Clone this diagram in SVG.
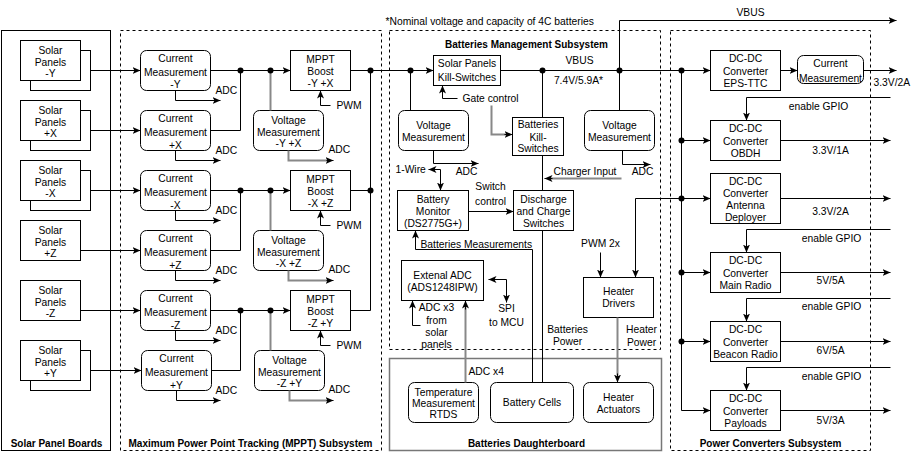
<svg xmlns="http://www.w3.org/2000/svg" width="913" height="452" viewBox="0 0 913 452">
<defs>
<marker id="ah" markerUnits="userSpaceOnUse" markerWidth="9" markerHeight="8" refX="8" refY="4" orient="auto-start-reverse" viewBox="0 0 9 8">
<path d="M0,0.5 L8,4 L0,7.5 L2,4 Z" fill="#000"/>
</marker>
<style>
.n{fill:#fff;stroke:#000;stroke-width:1}
.c{fill:none;stroke:#000;stroke-width:1}
.d{fill:none;stroke:#000;stroke-width:1;stroke-dasharray:3 3}
.w{fill:none;stroke:#000;stroke-width:1}
.g{fill:none;stroke:#888;stroke-width:2}
.a{marker-end:url(#ah)}
.s{marker-start:url(#ah)}
.j{fill:#000}
text{font-family:"Liberation Sans",Arial,Helvetica,sans-serif;font-size:10.3px;fill:#000;text-anchor:middle}
.l{text-anchor:start}
.b{font-weight:bold;font-size:10px}
</style>
</defs>
<rect width="913" height="452" fill="#fff"/>
<g transform="translate(0.5,0.5)">

<g id="containers">
<rect x="1" y="30" width="109" height="420" class="c"/>
<text class="b" x="56" y="446">Solar Panel Boards</text>
<rect x="120" y="30" width="261" height="420" class="d"/>
<text class="b" x="250" y="446">Maximum Power Point Tracking (MPPT) Subsystem</text>
<rect x="389" y="30" width="271" height="319" class="d"/>
<text class="b" x="526" y="47">Batteries Management Subsystem</text>
<rect x="389" y="358" width="272" height="92" fill="none" stroke="#777" stroke-width="1.5"/>
<text class="b" x="526" y="446">Batteries Daughterboard</text>
<rect x="670" y="30" width="200" height="420" class="d"/>
<text class="b" x="770" y="446">Power Converters Subsystem</text>
<text class="l" x="385" y="24">*Nominal voltage and capacity of 4C batteries</text>
</g>

<g id="panel-my"><rect x="30" y="50" width="60" height="40" class="n"/><rect x="20" y="40" width="60" height="40" class="n"/><text x="50" y="53.5">Solar</text><text x="50" y="65">Panels</text><text x="50" y="76.5">-Y</text></g>
<g id="panel-px"><rect x="30" y="110" width="60" height="40" class="n"/><rect x="20" y="100" width="60" height="40" class="n"/><text x="50" y="113.5">Solar</text><text x="50" y="125">Panels</text><text x="50" y="136.5">+X</text></g>
<g id="panel-mx"><rect x="30" y="170" width="60" height="40" class="n"/><rect x="20" y="160" width="60" height="40" class="n"/><text x="50" y="173.5">Solar</text><text x="50" y="185">Panels</text><text x="50" y="196.5">-X</text></g>
<g id="panel-pz"><rect x="20" y="220" width="60" height="40" class="n"/><text x="50" y="233.5">Solar</text><text x="50" y="245">Panels</text><text x="50" y="256.5">+Z</text></g>
<g id="panel-mz"><rect x="20" y="280" width="60" height="40" class="n"/><text x="50" y="293.5">Solar</text><text x="50" y="305">Panels</text><text x="50" y="316.5">-Z</text></g>
<g id="panel-py"><rect x="30" y="350" width="60" height="40" class="n"/><rect x="20" y="340" width="60" height="40" class="n"/><text x="50" y="353.5">Solar</text><text x="50" y="365">Panels</text><text x="50" y="376.5">+Y</text></g>

<g id="cm-my"><rect x="140" y="50" width="70" height="40" rx="6" class="n"/><text x="175" y="61.5">Current</text><text x="175" y="75">Measurement</text><text x="175" y="87">-Y</text></g>
<g id="cm-px"><rect x="140" y="110" width="70" height="40" rx="6" class="n"/><text x="175" y="121">Current</text><text x="175" y="135.5">Measurement</text><text x="175" y="148.5">+X</text></g>
<g id="cm-mx"><rect x="140" y="170" width="70" height="40" rx="6" class="n"/><text x="175" y="181">Current</text><text x="175" y="195.5">Measurement</text><text x="175" y="208.5">-X</text></g>
<g id="cm-pz"><rect x="140" y="230" width="70" height="40" rx="6" class="n"/><text x="175" y="241">Current</text><text x="175" y="255.5">Measurement</text><text x="175" y="268.5">+Z</text></g>
<g id="cm-mz"><rect x="140" y="290" width="70" height="40" rx="6" class="n"/><text x="175" y="301">Current</text><text x="175" y="315.5">Measurement</text><text x="175" y="328.5">-Z</text></g>
<g id="cm-py"><rect x="141" y="350" width="70" height="40" rx="6" class="n"/><text x="176" y="361">Current</text><text x="176" y="375.5">Measurement</text><text x="176" y="388.5">+Y</text></g>

<g id="mppt-1"><rect x="290" y="50" width="60" height="40" class="n"/><text x="320" y="62.5">MPPT</text><text x="320" y="74.5">Boost</text><text x="320" y="86.5">-Y +X</text></g>
<g id="mppt-2"><rect x="290" y="170" width="60" height="40" class="n"/><text x="320" y="182.5">MPPT</text><text x="320" y="194.5">Boost</text><text x="320" y="206.5">-X +Z</text></g>
<g id="mppt-3"><rect x="290" y="290" width="60" height="40" class="n"/><text x="320" y="302.5">MPPT</text><text x="320" y="314.5">Boost</text><text x="320" y="326.5">-Z +Y</text></g>

<g id="vm-1"><rect x="253" y="110" width="70" height="40" rx="6" class="n"/><text x="288" y="123.5">Voltage</text><text x="288" y="135.5">Measurement</text><text x="288" y="146.5">-Y +X</text></g>
<g id="vm-2"><rect x="253" y="230" width="70" height="40" rx="6" class="n"/><text x="288" y="243.5">Voltage</text><text x="288" y="255.5">Measurement</text><text x="288" y="266.5">-X +Z</text></g>
<g id="vm-3"><rect x="254" y="350" width="70" height="40" rx="6" class="n"/><text x="289" y="363.5">Voltage</text><text x="289" y="375.5">Measurement</text><text x="289" y="386.5">-Z +Y</text></g>

<g id="sp-kill"><rect x="433" y="55" width="67" height="30" class="n"/><text x="466.5" y="66.5">Solar Panels</text><text x="466.5" y="80.5">Kill-Switches</text></g>
<g id="vm-bl"><rect x="398" y="110" width="70" height="40" rx="6" class="n"/><text x="433" y="128.5">Voltage</text><text x="433" y="140.5">Measurement</text></g>
<g id="bat-kill"><rect x="512" y="117" width="51" height="38" class="n"/><text x="537.5" y="127.5">Batteries</text><text x="537.5" y="140.5">Kill-</text><text x="537.5" y="151.5">Switches</text></g>
<g id="vm-br"><rect x="584" y="110" width="70" height="40" rx="6" class="n"/><text x="619" y="128.5">Voltage</text><text x="619" y="140.5">Measurement</text></g>
<g id="bat-mon"><rect x="397" y="190" width="71" height="40" class="n"/><text x="432.5" y="202.5">Battery</text><text x="432.5" y="214.5">Monitor</text><text x="432.5" y="226.5">(DS2775G+)</text></g>
<g id="dc-sw"><rect x="513" y="190" width="60" height="40" class="n"/><text x="543" y="202.5">Discharge</text><text x="543" y="214.5">and Charge</text><text x="543" y="226.5">Switches</text></g>
<g id="ext-adc"><rect x="401" y="260" width="82" height="40" class="n"/><text x="442" y="278.5">Extenal ADC</text><text x="442" y="290.5">(ADS1248IPW)</text></g>
<g id="heater-drv"><rect x="583" y="277" width="70" height="40" class="n"/><text x="618" y="294.5">Heater</text><text x="618" y="306.5">Drivers</text></g>

<g id="temp"><rect x="408" y="382" width="70" height="40" rx="6" class="n"/><text x="443" y="395.5">Temperature</text><text x="443" y="406.5">Measurement</text><text x="443" y="417.5">RTDS</text></g>
<g id="cells"><rect x="490" y="382" width="83" height="40" rx="6" class="n"/><text x="531.5" y="405.5">Battery Cells</text></g>
<g id="heater-act"><rect x="583" y="382" width="70" height="40" rx="6" class="n"/><text x="618" y="400.5">Heater</text><text x="618" y="412.5">Actuators</text></g>

<g id="dcdc-eps"><rect x="710" y="50" width="70" height="40" class="n"/><text x="745" y="61.5">DC-DC</text><text x="745" y="74.5">Converter</text><text x="745" y="86.5">EPS-TTC</text></g>
<g id="cm-eps"><rect x="797" y="55" width="66" height="28" rx="6" class="n"/><text x="830" y="66.5">Current</text><text x="830" y="81">Measurement</text></g>
<g id="dcdc-obdh"><rect x="710" y="120" width="70" height="40" class="n"/><text x="745" y="131.5">DC-DC</text><text x="745" y="144.5">Converter</text><text x="745" y="156.5">OBDH</text></g>
<g id="dcdc-ant"><rect x="710" y="173" width="70" height="50" class="n"/><text x="745" y="184.5">DC-DC</text><text x="745" y="196.5">Converter</text><text x="745" y="208.5">Antenna</text><text x="745" y="220.5">Deployer</text></g>
<g id="dcdc-main"><rect x="710" y="252" width="70" height="40" class="n"/><text x="745" y="263.5">DC-DC</text><text x="745" y="276.5">Converter</text><text x="745" y="288.5">Main Radio</text></g>
<g id="dcdc-beacon"><rect x="710" y="321" width="70" height="40" class="n"/><text x="745" y="332.5">DC-DC</text><text x="745" y="345.5">Converter</text><text x="745" y="357.5">Beacon Radio</text></g>
<g id="dcdc-pay"><rect x="710" y="390" width="70" height="40" class="n"/><text x="745" y="401.5">DC-DC</text><text x="745" y="414.5">Converter</text><text x="745" y="426.5">Payloads</text></g>

<g id="connectors">
<path class="w a" d="M90,70H140"/>
<path class="w a" d="M90,130H140"/>
<path class="w a" d="M90,190H140"/>
<path class="w a" d="M80,250H140"/>
<path class="w a" d="M80,310H140"/>
<path class="w a" d="M90,370H141"/>

<path class="w a" d="M175,90V100H220"/>
<path class="w a" d="M175,150V160H220"/>
<path class="w a" d="M175,210V220H220"/>
<path class="w a" d="M175,270V280H220"/>
<path class="w a" d="M175,330V340H220"/>
<path class="w a" d="M176,390V400H220"/>
<text class="l" x="215" y="93.5">ADC</text>
<text class="l" x="215" y="153.5">ADC</text>
<text class="l" x="215" y="213.5">ADC</text>
<text class="l" x="215" y="273.5">ADC</text>
<text class="l" x="215" y="333.5">ADC</text>
<text class="l" x="215" y="393.5">ADC</text>

<path class="w a" d="M210,70H290"/>
<path class="w" d="M210,130H240V70"/>
<path class="w a" d="M210,190H290"/>
<path class="w" d="M210,250H240V190"/>
<path class="w a" d="M210,310H290"/>
<path class="w" d="M211,370H240V310"/>
<path class="g" d="M270,70V110"/>
<path class="g" d="M270,190V230"/>
<path class="g" d="M270,310V350"/>

<path class="w a" d="M330,105H320V90"/>
<path class="w a" d="M330,225H320V210"/>
<path class="w a" d="M330,345H320V330"/>
<text class="l" x="336" y="108">PWM</text>
<text class="l" x="336" y="228">PWM</text>
<text class="l" x="336" y="348">PWM</text>

<path class="g" d="M288,150V160H328"/><path class="w a" d="M326,160H333"/>
<path class="g" d="M288,270V280H328"/><path class="w a" d="M326,280H333"/>
<path class="g" d="M289,390V400H328"/><path class="w a" d="M326,400H333"/>
<text class="l" x="328" y="152.5">ADC</text>
<text class="l" x="328" y="272.5">ADC</text>
<text class="l" x="328" y="392.5">ADC</text>

<path class="w" d="M350,70H370M350,190H370M350,310H370V70"/>
<path class="w a" d="M370,70H433"/>
<path class="w a" d="M500,70H710"/>
<path class="w" d="M410,70V110"/>
<path class="w a" d="M433,150V163H478"/>
<text x="466" y="174">ADC</text>
<path class="w a" d="M457,98H442V85"/>
<text class="l" x="462" y="101.5">Gate control</text>
<path class="g" d="M491,105V134H506"/><path class="w a" d="M504,134H512"/>
<path class="w" d="M542,70V117M542,155V190M542,230V382"/>
<path class="g" d="M621,178H550"/><path class="w a" d="M552,178H544"/>
<text class="l" x="553" y="174.5">Charger Input</text>
<text x="579" y="63.5">VBUS</text>
<text x="578" y="83.5">7.4V/5.9A*</text>
<path class="w" d="M619,70V110"/>
<path class="w a" d="M619,70V20H896"/>
<text x="750" y="15.5">VBUS</text>
<path class="w a" d="M622,150V164H650"/>
<text x="642" y="174">ADC</text>

<path class="w s a" d="M428,169H440V190"/>
<text class="l" x="395" y="172.5">1-Wire</text>
<path class="w a" d="M468,211H513"/>
<text x="490" y="189.5">Switch</text>
<text x="490" y="204.5">control</text>
<path class="w a" d="M532,382V249H415V230"/>
<text class="l" x="420" y="247">Batteries Measurements</text>
<path class="w s a" d="M488,279H506V302"/>
<text x="506" y="311.5">SPI</text>
<text x="506" y="325.5">to MCU</text>
<path class="w a" d="M420,325H412V300"/>
<text x="436" y="310.5">ADC x3</text>
<text x="436" y="323.5">from</text>
<text x="436" y="335.5">solar</text>
<text x="436" y="347">panels</text>
<path class="g" d="M465,382V307"/><path class="w a" d="M465,309V300"/>
<text class="l" x="468" y="374.5">ADC x4</text>
<text x="567" y="332.5">Batteries</text>
<text x="567" y="344.5">Power</text>

<path class="w a" d="M681,198H635V277"/>
<path class="w a" d="M600,252V277"/>
<text x="600" y="246.5">PWM 2x</text>
<path class="g" d="M617,317V375"/><path class="w a" d="M617,373V382"/>
<text x="641" y="332.5">Heater</text>
<text x="641" y="345.5">Power</text>

<path class="w" d="M681,70V410"/>
<path class="w a" d="M681,140H710"/>
<path class="w a" d="M681,198H710"/>
<path class="w a" d="M681,272H710"/>
<path class="w a" d="M681,341H710"/>
<path class="w a" d="M681,410H710"/>
<path class="w a" d="M780,70H797"/>
<path class="w a" d="M863,70H896"/>
<text class="l" x="873" y="85.5">3.3V/2A</text>
<path class="w a" d="M890,97H746V120"/>
<text x="818" y="109.5">enable GPIO</text>
<path class="w a" d="M780,140H890"/>
<text x="830" y="153.5">3.3V/1A</text>
<path class="w a" d="M780,198H890"/>
<text x="830" y="214.5">3.3V/2A</text>
<path class="w a" d="M890,229H746V252"/>
<text x="831" y="241.5">enable GPIO</text>
<path class="w a" d="M780,272H890"/>
<text x="830" y="283.5">5V/5A</text>
<path class="w a" d="M890,298H746V321"/>
<text x="831" y="309.5">enable GPIO</text>
<path class="w a" d="M780,341H890"/>
<text x="830" y="353.5">6V/5A</text>
<path class="w a" d="M890,367H746V390"/>
<text x="831" y="379.5">enable GPIO</text>
<path class="w a" d="M780,410H890"/>
<text x="830" y="423.5">5V/3A</text>

<circle class="j" cx="240" cy="70" r="3"/><circle class="j" cx="270" cy="70" r="3"/>
<circle class="j" cx="240" cy="190" r="3"/><circle class="j" cx="270" cy="190" r="3"/>
<circle class="j" cx="240" cy="310" r="3"/><circle class="j" cx="270" cy="310" r="3"/>
<circle class="j" cx="370" cy="70" r="3"/><circle class="j" cx="370" cy="190" r="3"/>
<circle class="j" cx="410" cy="70" r="3"/><circle class="j" cx="542" cy="70" r="3"/><circle class="j" cx="619" cy="70" r="3"/>
<circle class="j" cx="681" cy="70" r="3"/><circle class="j" cx="681" cy="140" r="3"/><circle class="j" cx="681" cy="198" r="3"/><circle class="j" cx="681" cy="272" r="3"/><circle class="j" cx="681" cy="341" r="3"/>
</g>
</g>
</svg>
